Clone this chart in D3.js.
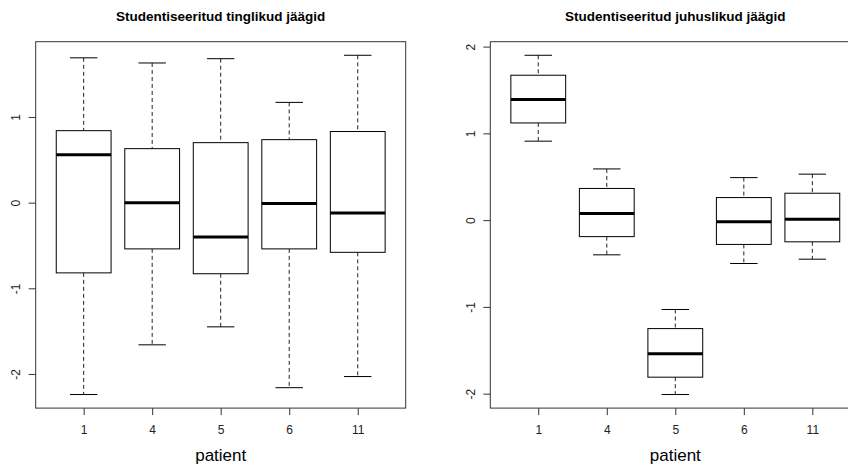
<!DOCTYPE html>
<html>
<head>
<meta charset="utf-8">
<script src="https://cdn.jsdelivr.net/npm/d3@7"></script>
<style>
  body { margin: 0; background: #fff; }
  svg { display: block; font-family: "Liberation Sans", Arial, sans-serif; }
</style>
</head>
<body>
<svg id="chart" width="848" height="466"></svg>
<script>
// Patients on the x axis
const patients = ["1", "4", "5", "6", "11"];

// Studentized conditional residuals: whisker ends, quartiles and medians per patient
const condLower  = [-2.24, -1.66, -1.45, -2.16, -2.03];
const condQ1     = [-0.82, -0.54, -0.83, -0.54, -0.58];
const condMedian = [ 0.56,  0.00, -0.40, -0.01, -0.12];
const condQ3     = [ 0.84,  0.63,  0.70,  0.735, 0.83];
const condUpper  = [ 1.69,  1.63,  1.68,  1.17,  1.72];

// Studentized marginal residuals
const margLower  = [ 0.91, -0.40, -2.01, -0.50, -0.45];
const margQ1     = [ 1.12, -0.19, -1.81, -0.28, -0.25];
const margMedian = [ 1.39,  0.077, -1.54, -0.02,  0.01];
const margQ3     = [ 1.67,  0.365, -1.25,  0.26,  0.31];
const margUpper  = [ 1.90,  0.59, -1.03,  0.49,  0.53];

const titles = ["Studentiseeritud tinglikud jäägid", "Studentiseeritud juhuslikud jäägid"];
const xLabel = "patient";

const svg = d3.select("#chart");

const panels = [
  { left: 35.7,  title: titles[0], lower: condLower, q1: condQ1, med: condMedian, q3: condQ3, upper: condUpper },
  { left: 490.3, title: titles[1], lower: margLower, q1: margQ1, med: margMedian, q3: margQ3, upper: margUpper }
];

const frameW = 370, frameTop = 41.7, frameBottom = 408.1;

panels.forEach(p => {
  const g = svg.append("g");
  const n = patients.length;

  // x: category positions 1..n, range padded by half a slot and then 4%
  const xPad = (n) * 0.04;
  const x = d3.scaleLinear()
    .domain([0.5 - xPad, n + 0.5 + xPad])
    .range([p.left, p.left + frameW]);

  // y: data range extended by 4% on each side
  const lo = d3.min(p.lower), hi = d3.max(p.upper);
  const pad = (hi - lo) * 0.04;
  const y = d3.scaleLinear().domain([lo - pad, hi + pad]).range([frameBottom, frameTop]);

  const stats = patients.map((name, i) => ({
    pos: i + 1, name,
    lower: p.lower[i], q1: p.q1[i], med: p.med[i], q3: p.q3[i], upper: p.upper[i]
  }));

  const boxHalf = (x(1.4) - x(1)), capHalf = (x(1.2) - x(1));

  const box = g.selectAll("g.box").data(stats).join("g").attr("class", "box");

  // dashed whiskers
  box.append("line")
    .attr("x1", d => x(d.pos)).attr("x2", d => x(d.pos))
    .attr("y1", d => y(d.upper)).attr("y2", d => y(d.q3))
    .attr("stroke", "#222").attr("stroke-width", 1).attr("stroke-dasharray", "4,3");
  box.append("line")
    .attr("x1", d => x(d.pos)).attr("x2", d => x(d.pos))
    .attr("y1", d => y(d.q1)).attr("y2", d => y(d.lower))
    .attr("stroke", "#222").attr("stroke-width", 1).attr("stroke-dasharray", "4,3");

  // whisker caps
  box.append("line")
    .attr("x1", d => x(d.pos) - capHalf).attr("x2", d => x(d.pos) + capHalf)
    .attr("y1", d => y(d.upper)).attr("y2", d => y(d.upper))
    .attr("stroke", "#000").attr("stroke-width", 1);
  box.append("line")
    .attr("x1", d => x(d.pos) - capHalf).attr("x2", d => x(d.pos) + capHalf)
    .attr("y1", d => y(d.lower)).attr("y2", d => y(d.lower))
    .attr("stroke", "#000").attr("stroke-width", 1);

  // interquartile box
  box.append("rect")
    .attr("x", d => x(d.pos) - boxHalf)
    .attr("width", boxHalf * 2)
    .attr("y", d => y(d.q3))
    .attr("height", d => y(d.q1) - y(d.q3))
    .attr("fill", "#fff").attr("stroke", "#000").attr("stroke-width", 1);

  // median
  box.append("line")
    .attr("x1", d => x(d.pos) - boxHalf).attr("x2", d => x(d.pos) + boxHalf)
    .attr("y1", d => y(d.med)).attr("y2", d => y(d.med))
    .attr("stroke", "#000").attr("stroke-width", 3);

  // frame
  g.append("rect")
    .attr("x", p.left).attr("y", frameTop)
    .attr("width", frameW).attr("height", frameBottom - frameTop)
    .attr("fill", "none").attr("stroke", "#333").attr("stroke-width", 1);

  // x axis
  const xAxis = g.append("g")
    .attr("transform", `translate(0,${frameBottom})`)
    .call(d3.axisBottom(x)
      .tickValues(stats.map(d => d.pos))
      .tickFormat((v, i) => patients[i])
      .tickSize(7).tickPadding(10));
  xAxis.select(".domain").remove();
  xAxis.selectAll("line").attr("stroke", "#333");
  xAxis.selectAll("text").attr("font-size", 12).attr("fill", "#222")
    .attr("font-family", "Liberation Sans, Arial, sans-serif");

  // y axis with integer ticks and labels turned parallel to the axis
  const yTicks = d3.range(Math.ceil(y.domain()[0]), Math.floor(y.domain()[1]) + 1);
  const yAxis = g.append("g")
    .attr("transform", `translate(${p.left},0)`)
    .call(d3.axisLeft(y).tickValues(yTicks).tickFormat(d3.format("d")).tickSize(7));
  yAxis.select(".domain").remove();
  yAxis.selectAll("line").attr("stroke", "#333");
  yAxis.selectAll("text")
    .attr("x", null).attr("dy", "0.35em")
    .attr("text-anchor", "middle")
    .attr("transform", "translate(-20,0) rotate(-90)")
    .attr("font-size", 12).attr("fill", "#222")
    .attr("font-family", "Liberation Sans, Arial, sans-serif")
    .text(d => d < 0 ? "-" + Math.abs(d) : String(d));

  const cx = p.left + frameW / 2;

  // title
  g.append("text")
    .attr("x", cx).attr("y", 20.5)
    .attr("text-anchor", "middle")
    .attr("font-size", 13.5).attr("font-weight", "bold").attr("fill", "#000")
    .text(p.title);

  // x axis label
  g.append("text")
    .attr("x", cx).attr("y", 461)
    .attr("text-anchor", "middle")
    .attr("font-size", 17).attr("fill", "#000")
    .text(xLabel);
});
</script>
</body>
</html>
